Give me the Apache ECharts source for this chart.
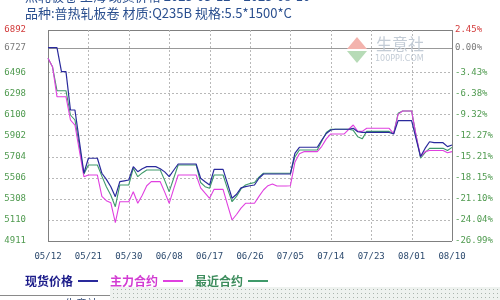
<!DOCTYPE html>
<html>
<head>
<meta charset="utf-8">
<script src="https://cdn.jsdelivr.net/npm/echarts@6/dist/echarts.min.js"></script>
<style>
  html, body { margin: 0; padding: 0; background: #fff; }
  #chart { width: 500px; height: 300px; }
</style>
</head>
<body>
<div id="chart"></div>
<script>
// Hot-rolled coil (Shanghai): spot price vs. main and nearest futures contracts
const startDate = '2025-05-12';
const dayCount = 91;
const labelEvery = 9;

// Price ticks on the left axis and the matching change-vs-base labels on the right
const basePrice = 6727;
const priceTicks = [4911, 5110, 5308, 5506, 5704, 5902, 6100, 6298, 6496, 6727, 6892];
const changeLabels = ['-26.99%', '-24.04%', '-21.10%', '-18.15%', '-15.21%', '-12.27%',
                      '-9.32%', '-6.38%', '-3.43%', '0.00%', '2.45%'];

const seriesNames = ['现货价格', '主力合约', '最近合约'];
const seriesColors = ['#2a2a9c', '#e040e0', '#3f9a6a'];
const legendTextColors = ['#1c1c8a', '#d23cd2', '#3c8c5c'];

// Daily values, one per calendar day from startDate
const spotPrice = [
  6727, 6727, 6727, 6501, 6501, 6141, 6141, 5844, 5547, 5688,
  5688, 5688, 5547, 5490, 5420, 5327, 5468, 5476, 5484, 5609,
  5562, 5590, 5609, 5609, 5609, 5590, 5560, 5515, 5575, 5634,
  5634, 5634, 5634, 5634, 5500, 5468, 5437, 5584, 5584, 5584,
  5450, 5312, 5350, 5410, 5421, 5430, 5437, 5500, 5540, 5540,
  5540, 5540, 5540, 5540, 5540, 5734, 5791, 5791, 5791, 5791,
  5791, 5859, 5920, 5953, 5960, 5960, 5960, 5960, 5969, 5937,
  5930, 5930, 5930, 5930, 5930, 5930, 5930, 5916, 6041, 6041,
  6041, 6041, 5870, 5704, 5780, 5843, 5834, 5834, 5834, 5797,
  5812
];
const mainContract = [
  6627, 6548, 6266, 6266, 6266, 6047, 6000, 5757, 5515, 5530,
  5530, 5530, 5330, 5290, 5270, 5083, 5280, 5280, 5280, 5374,
  5265, 5340, 5430, 5468, 5468, 5468, 5370, 5265, 5400, 5531,
  5531, 5531, 5531, 5531, 5410, 5360, 5312, 5396, 5396, 5396,
  5250, 5108, 5160, 5220, 5265, 5265, 5265, 5330, 5390, 5430,
  5446, 5427, 5427, 5427, 5430, 5650, 5730, 5750, 5750, 5750,
  5750, 5800, 5870, 5916, 5916, 5916, 5916, 5960, 6000, 5940,
  5940, 5969, 5969, 5969, 5969, 5969, 5969, 5920, 6100, 6132,
  6132, 6132, 5900, 5703, 5750, 5760, 5760, 5760, 5760, 5740,
  5750
];
const nearContract = [
  6627, 6548, 6322, 6322, 6322, 6094, 6047, 5800, 5540, 5625,
  5625, 5625, 5520, 5420, 5340, 5233, 5437, 5437, 5437, 5594,
  5515, 5550, 5578, 5578, 5578, 5578, 5480, 5374, 5500, 5625,
  5625, 5625, 5625, 5625, 5460, 5421, 5406, 5531, 5531, 5531,
  5400, 5280, 5330, 5400, 5437, 5450, 5460, 5510, 5547, 5547,
  5547, 5547, 5547, 5547, 5547, 5700, 5766, 5766, 5766, 5766,
  5766, 5850, 5930, 5960, 5960, 5960, 5960, 5960, 5950, 5890,
  5870, 5940, 5940, 5940, 5940, 5940, 5940, 5920, 6110, 6132,
  6132, 6132, 5900, 5688, 5740, 5781, 5781, 5781, 5781, 5760,
  5790
];

// Build the "MM/DD" category labels
const dates = [];
{
  const t0 = Date.parse(startDate + 'T00:00:00Z');
  for (let i = 0; i < dayCount; i++) {
    const d = new Date(t0 + i * 86400000);
    const mm = String(d.getUTCMonth() + 1).padStart(2, '0');
    const dd = String(d.getUTCDate()).padStart(2, '0');
    dates.push(mm + '/' + dd);
  }
}

const yMin = priceTicks[0];
const yMax = priceTicks[priceTicks.length - 1];
const labelFont = 'DejaVu Sans Mono';
const gridColor = '#b8b8b8';
const frameColor = '#808080';

function tickColor(v) {
  if (v > basePrice) return '#d23a3a';
  if (v === basePrice) return '#7a7a7a';
  return '#4f9a4f';
}

// Dotted fill used for the footer strip
const dotCanvas = document.createElement('canvas');
dotCanvas.width = 4; dotCanvas.height = 4;
{
  const g = dotCanvas.getContext('2d');
  g.fillStyle = '#eef2ef';
  g.fillRect(0, 0, 4, 4);
  g.fillStyle = '#a9b4ad';
  g.fillRect(1, 1, 1, 1);
}

// Guide lines: one per price tick, one per labelled date (outer ones form the frame)
const hGuideData = priceTicks.map(v => [0, v]);
const vGuideData = [];
for (let i = 0; i < dayCount; i += labelEvery) vGuideData.push([i, yMin]);

function guideStyle(isFrame, isBase) {
  if (isFrame) return { stroke: frameColor, lineWidth: 1, fill: null };
  if (isBase) return { stroke: '#999999', lineWidth: 1, fill: null };
  return { stroke: gridColor, lineWidth: 1, lineDash: [2, 2], fill: null };
}
function renderHGuide(params, api) {
  const cs = params.coordSys;
  const v = api.value(1);
  const y = Math.round(api.coord([0, v])[1]) + 0.5;
  return {
    type: 'line',
    shape: { x1: cs.x, y1: y, x2: cs.x + cs.width, y2: y },
    style: guideStyle(v === yMin || v === yMax, v === basePrice)
  };
}
function renderVGuide(params, api) {
  const cs = params.coordSys;
  const idx = api.value(0);
  const x = Math.round(api.coord([idx, yMin])[0]) + 0.5;
  return {
    type: 'line',
    shape: { x1: x, y1: cs.y, x2: x, y2: cs.y + cs.height },
    style: guideStyle(idx === 0 || idx === dayCount - 1, false)
  };
}

const chart = echarts.init(document.getElementById('chart'), null, { renderer: 'canvas' });

const option = {
  animation: false,
  backgroundColor: '#ffffff',
  grid: { left: 48, right: 48, top: 30, bottom: 59 },
  legend: {
    left: 20, top: 270,
    align: 'right',
    icon: 'rect',
    itemWidth: 20, itemHeight: 2, itemGap: 12,
    selectedMode: false,
    data: seriesNames.map((n, i) => ({
      name: n,
      textStyle: { color: legendTextColors[i], fontSize: 12, fontWeight: 'bold',
                   fontFamily: 'Noto Sans CJK SC' }
    }))
  },
  xAxis: {
    type: 'category',
    data: dates,
    boundaryGap: false,
    axisLine: { show: false },
    axisTick: { show: false },
    splitLine: { show: false },
    axisLabel: {
      interval: labelEvery - 1, margin: 11, color: '#2c4a6e', fontSize: 9, fontFamily: labelFont
    }
  },
  yAxis: [
    {
      type: 'value', min: yMin, max: yMax, position: 'left',
      axisLine: { show: false }, axisTick: { show: false }, splitLine: { show: false },
      axisLabel: {
        customValues: priceTicks, margin: 22, fontSize: 9, fontFamily: labelFont,
        color: (v) => tickColor(Number(v)),
        formatter: (v) => String(v)
      }
    },
    {
      type: 'value', min: yMin, max: yMax, position: 'right',
      axisLine: { show: false }, axisTick: { show: false }, splitLine: { show: false },
      axisLabel: {
        customValues: priceTicks, margin: 3, fontSize: 9, fontFamily: labelFont,
        color: (v) => tickColor(Number(v)),
        formatter: (v) => {
          const i = priceTicks.indexOf(Number(v));
          return i >= 0 ? changeLabels[i] : '';
        }
      }
    }
  ],
  series: [
    { name: 'hGuide', type: 'custom', data: hGuideData, renderItem: renderHGuide,
      encode: { x: 0, y: 1 }, silent: true, z: 1, clip: false },
    { name: 'vGuide', type: 'custom', data: vGuideData, renderItem: renderVGuide,
      encode: { x: 0, y: 1 }, silent: true, z: 1, clip: false },
    {
      name: seriesNames[2], type: 'line', data: nearContract, showSymbol: false, z: 3,
      lineStyle: { color: seriesColors[2], width: 1.1 }, itemStyle: { color: seriesColors[2] }
    },
    {
      name: seriesNames[1], type: 'line', data: mainContract, showSymbol: false, z: 4,
      lineStyle: { color: seriesColors[1], width: 1.1 }, itemStyle: { color: seriesColors[1] }
    },
    {
      name: seriesNames[0], type: 'line', data: spotPrice, showSymbol: false, z: 5,
      lineStyle: { color: seriesColors[0], width: 1.2 }, itemStyle: { color: seriesColors[0] }
    }
  ],
  graphic: [
    // Heading lines
    { type: 'text', left: 25, top: -10, z: 10,
      style: { text: '热轧板卷 上海 现货价格 2025-05-12 ~ 2025-08-10', fill: '#2a4f8f',
               font: '13px "Noto Sans CJK SC"' } },
    { type: 'text', left: 25, top: 7, z: 10,
      style: { text: '品种:普热轧板卷 材质:Q235B 规格:5.5*1500*C', fill: '#2a4f8f',
               font: '13px "Noto Sans CJK SC"' } },
    // Site mark
    { type: 'polygon', z: 2, shape: { points: [[357, 37], [367, 49], [347, 49]] },
      style: { fill: '#f3b3ad' } },
    { type: 'polygon', z: 2, shape: { points: [[347, 51], [367, 51], [357, 63]] },
      style: { fill: '#b7dbb7' } },
    { type: 'text', left: 376, top: 36, z: 2,
      style: { text: '生意社', fill: '#c3ccd6', font: '16px "Noto Sans CJK SC"' } },
    { type: 'text', left: 375, top: 55, z: 2,
      style: { text: '100PPI.COM', fill: '#c3ccd6', font: '8px "DejaVu Sans"' } },
    // Footer
    { type: 'rect', z: 2, shape: { x: 0, y: 295, width: 110, height: 1 },
      style: { fill: '#8a8a8a' } },
    { type: 'rect', z: 2, shape: { x: 110, y: 287, width: 390, height: 13 },
      style: { fill: { image: dotCanvas, repeat: 'repeat' } } },
    { type: 'text', left: 22, top: 298, z: 2,
      style: { text: '2025-07 生意社', fill: '#3a4f7a', font: '11px "Noto Sans CJK SC"' } }
  ]
};

chart.setOption(option);
</script>
</body>
</html>
